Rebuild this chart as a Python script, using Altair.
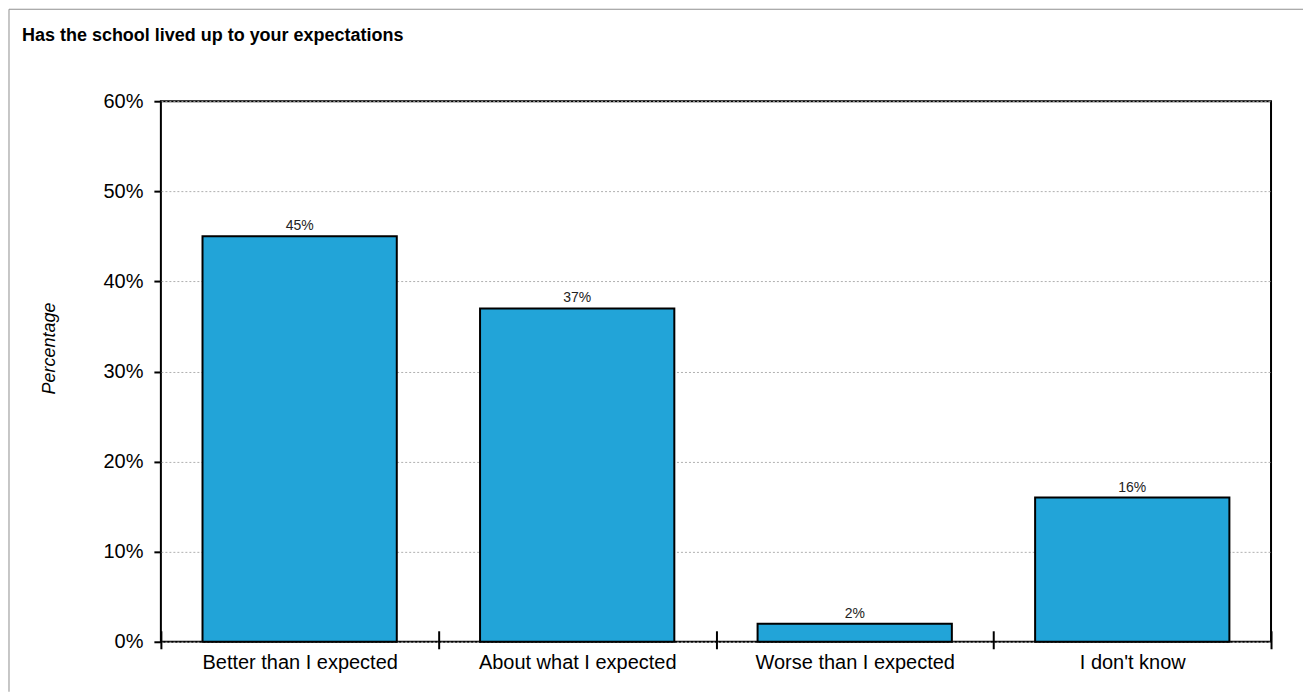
import altair as alt
import pandas as pd

categories = ["Better than I expected", "About what I expected", "Worse than I expected", "I don't know"]
values = [45, 37, 2, 16]
y_ticks = [0, 10, 20, 30, 40, 50, 60]

df = pd.DataFrame({"category": categories, "value": values})

W, H = 1111, 541
FONT = "Liberation Sans"

x_enc = alt.X(
    "category:N",
    sort=categories,
    scale=alt.Scale(paddingInner=0, paddingOuter=0),
    axis=alt.Axis(
        title=None, domain=False, tickBand="extent", tickSize=18, offset=-11,
        tickColor="black", tickWidth=2, labelPadding=4, labelAngle=0, labelLimit=0,
        labelFontSize=20, labelFont=FONT, labelColor="black", grid=False,
    ),
)
y_enc = alt.Y(
    "value:Q",
    scale=alt.Scale(domain=[0, 60], nice=False),
    axis=alt.Axis(
        title="Percentage", values=y_ticks, labelExpr="datum.value + '%'",
        domain=False, tickSize=7, tickColor="black", tickWidth=2, labelPadding=11,
        labelFontSize=20, labelFont=FONT, labelColor="black",
        titleFont=FONT, titleFontSize=18, titleFontStyle="italic", titleFontWeight="normal",
        titleColor="black", titlePadding=44, titleY=247,
        grid=True, gridColor="#b0b0b0", gridDash=[2, 2], gridWidth=1,
    ),
)

base = alt.Chart(df)
bars = base.mark_bar(
    color="#22a4d8", stroke="black", strokeWidth=2, width={"band": 0.7}
).encode(x=x_enc, y=y_enc)
labels = base.transform_calculate(lab="datum.value + '%'").mark_text(
    baseline="bottom", dy=-3, fontSize=14, font=FONT, color="#222"
).encode(x=alt.X("category:N", sort=categories), y="value:Q", text="lab:N")

one = pd.DataFrame({"a": [0]})
frame_left = alt.Chart(one).mark_rule(stroke="#909090", strokeWidth=1).encode(
    x=alt.value(-152), y=alt.value(-92), y2=alt.value(H + 50),
)
frame_top = alt.Chart(one).mark_rule(stroke="#909090", strokeWidth=1).encode(
    x=alt.value(-152), x2=alt.value(W + 32), y=alt.value(-92),
)

chart = alt.layer(frame_left, frame_top, bars, labels).properties(
    width=W, height=H,
    padding=0,
    background="white",
    title=alt.TitleParams(
        "Has the school lived up to your expectations",
        anchor="start", frame="group", dx=-139, offset=-36,
        font=FONT, fontSize=18, fontWeight="bold", color="black",
    ),
).configure_view(stroke="black", strokeWidth=2)

chart.save("out.html", embed_options={"renderer": "svg", "actions": False})
